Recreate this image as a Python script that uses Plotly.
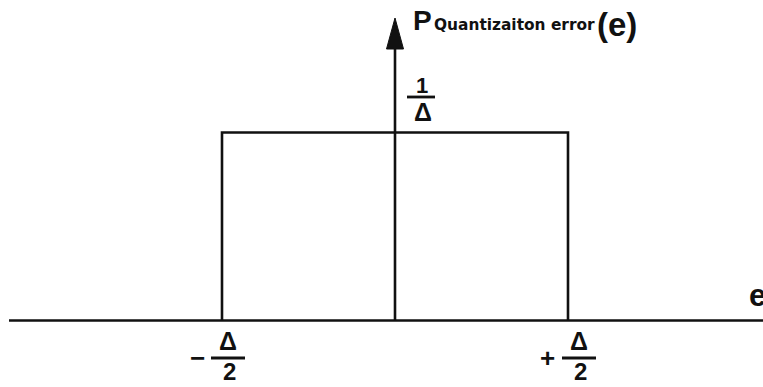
import plotly.graph_objects as go

# ---- data ----
delta = 1.0                      # quantization step Δ
pdf_level = 1.0 / delta          # height of the uniform pdf, 1/Δ
pdf_x = [-delta / 2, -delta / 2, delta / 2, delta / 2]
pdf_y = [0, pdf_level, pdf_level, 0]
x_label_text = "e"
y_label_main = "P"
y_label_sub = "Quantizaiton error"
y_label_arg = "(e)"

# ---- canvas mapping (pixel <-> data) ----
W, H = 763, 387
X0_PX, XU = 395.0, 346.0       # pixel of x=0, pixels per unit
Y0_PX, YU = 320.5, 188.0       # pixel of y=0, pixels per unit

def dx(px):
    return (px - X0_PX) / XU

def dy(py):
    return (Y0_PX - py) / YU

INK = "#111111"
LW = 2.6
FONT = "Liberation Sans, Arial, sans-serif"
WIDE = "DejaVu Sans, Verdana, sans-serif"

fig = go.Figure()

# horizontal axis
fig.add_trace(go.Scatter(x=[dx(9), dx(W + 5)], y=[0, 0], mode="lines",
                         line=dict(color=INK, width=LW), hoverinfo="skip"))
# vertical axis
axis_top = dy(40)
fig.add_trace(go.Scatter(x=[0, 0], y=[0, axis_top], mode="lines",
                         line=dict(color=INK, width=LW), hoverinfo="skip"))
# arrow head
tip, base, half = dy(18), dy(49), 8.5 / XU
fig.add_trace(go.Scatter(x=[-half, 0, half, -half], y=[base, tip, base, base],
                         mode="lines", fill="toself", fillcolor=INK,
                         line=dict(color=INK, width=1), hoverinfo="skip"))
# uniform pdf
fig.add_trace(go.Scatter(x=pdf_x, y=pdf_y, mode="lines",
                         line=dict(color=INK, width=LW), hoverinfo="skip"))

ann = []
def text(x, y, t, size, xanchor="center", yanchor="middle", family=FONT):
    ann.append(dict(x=x, y=y, xref="x", yref="y", text=t, showarrow=False,
                    xanchor=xanchor, yanchor=yanchor, borderpad=0,
                    font=dict(family=family, size=size, color=INK)))

def bar(x0, x1, y):
    fig.add_shape(type="line", x0=x0, x1=x1, y0=y, y1=y, xref="x", yref="y",
                  line=dict(color=INK, width=2.8))

# y label: P_{Quantizaiton error}(e)
text(dx(412), dy(20), f"<b>{y_label_main}</b>", 28, xanchor="left")
text(dx(433), dy(25), f"<b>{y_label_sub}</b>", 15.4, xanchor="left", family=WIDE)
text(dx(596), dy(24), f"<b>{y_label_arg}</b>", 33, xanchor="left")
# 1/Δ
text(dx(421.5), dy(85.5), "<b>1</b>", 22)
bar(dx(407), dx(435), dy(97))
text(dx(422.5), dy(112), "<b>Δ</b>", 25)
# x label
text(dx(748), dy(295), f"<b>{x_label_text}</b>", 31, xanchor="left")
# ∓Δ/2
for cx, sign, sx, off in [(-delta / 2, "−", 197, 6), (delta / 2, "+", 547, 11)]:
    c = cx * XU + X0_PX + off
    text(dx(sx), dy(358), f"<b>{sign}</b>", 26)
    text(dx(c), dy(340.5), "<b>Δ</b>", 25)
    bar(dx(c - 17), dx(c + 17), dy(358))
    text(dx(c + 1), dy(371.5), "<b>2</b>", 24)

fig.update_layout(
    width=W, height=H, margin=dict(l=0, r=0, t=0, b=0),
    paper_bgcolor="white", plot_bgcolor="white", showlegend=False,
    xaxis=dict(range=[dx(0), dx(W)], visible=False, fixedrange=True),
    yaxis=dict(range=[dy(H), dy(0)], visible=False, fixedrange=True),
    annotations=ann,
)
fig.write_html("out.html", config={"displayModeBar": False},
               post_script="document.body.style.margin='0';document.body.style.overflow='hidden';")
